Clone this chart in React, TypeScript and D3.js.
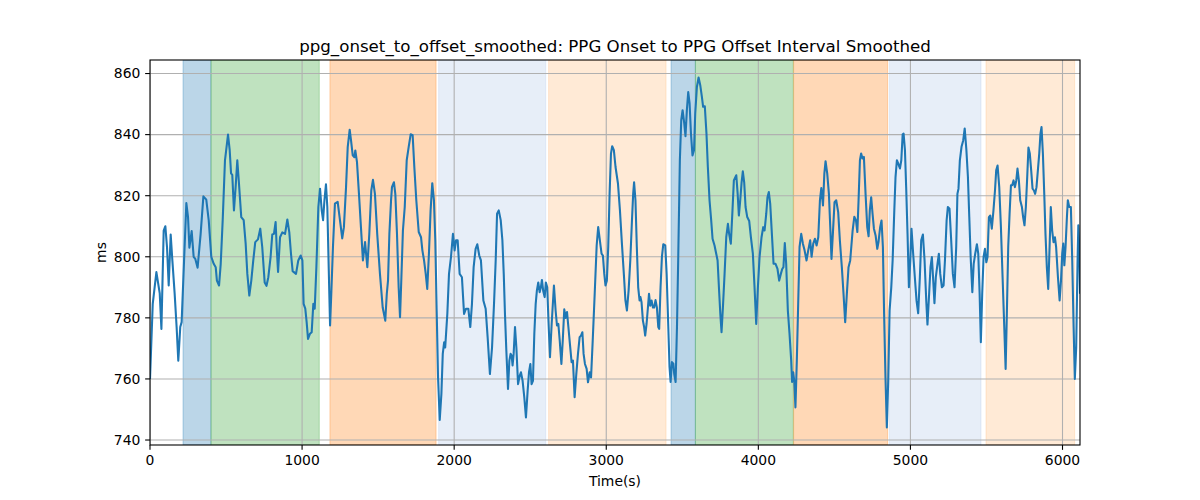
import * as d3 from 'd3'

// time (s) -> smoothed onset-to-offset interval (ms)
const trace: [number, number][] = [
    [0, 760], [18, 784.6], [42, 795], [64, 788], [75, 776.4], [90, 808.6], [101, 810], [112, 803],
    [123, 790.6], [136, 807.3], [147, 798.8], [162, 788], [175, 777], [186, 766], [199, 777], [208, 778.6],
    [224, 798.8], [239, 817.6], [250, 813], [259, 803], [274, 808.4], [287, 800], [298, 799.3], [313, 796.4],
    [333, 807.5], [351, 819.8], [370, 818.7], [386, 812], [403, 800], [419, 797.7], [432, 796.6], [440, 792.2],
    [454, 790.6], [465, 797.7], [478, 812], [493, 831.6], [513, 840], [524, 834.9], [533, 827.3], [541, 826.8],
    [552, 815.2], [563, 822.8], [574, 831.6], [585, 824], [600, 813], [616, 812], [629, 804.3], [640, 794.4],
    [653, 787.3], [666, 792.2], [679, 798.8], [692, 804.8], [710, 805.7], [725, 809.2], [738, 803.2], [754, 791.6],
    [766, 790.5], [778, 793.3], [793, 800], [804, 807.3], [815, 807.5], [826, 811.4], [833, 803.2], [842, 795],
    [855, 806.4], [870, 808], [888, 807.5], [903, 812.2], [916, 808], [927, 801], [938, 795.3], [960, 794.4],
    [975, 798.8], [991, 800.4], [1002, 798.8], [1010, 784.6], [1021, 783], [1030, 778.6], [1039, 773.1], [1052, 774.8],
    [1063, 775.3], [1074, 784.6], [1083, 783], [1094, 796.6], [1107, 816.3], [1118, 822.3], [1129, 815.2], [1138, 812],
    [1147, 818.5], [1157, 823.7], [1166, 816.3], [1175, 796.6], [1184, 777.5], [1192, 787.9], [1203, 803.2], [1216, 817.4],
    [1234, 818], [1249, 812], [1264, 806], [1275, 809.7], [1289, 822.8], [1300, 835.9], [1313, 841.6], [1322, 838],
    [1333, 833.2], [1344, 832.6], [1350, 834.8], [1361, 831], [1374, 820.6], [1387, 809.7], [1400, 798.8], [1414, 804.8],
    [1429, 796.6], [1442, 807.5], [1455, 821.7], [1466, 825.2], [1479, 820.6], [1494, 807.5], [1512, 794.4], [1530, 783.4],
    [1547, 779.1], [1557, 787.9], [1565, 792.2], [1574, 807.5], [1585, 818.5], [1591, 822.8], [1604, 824.4], [1613, 820.6],
    [1624, 807.5], [1635, 790], [1644, 780.2], [1653, 793.3], [1663, 808.6], [1675, 816.3], [1688, 831.6], [1701, 836],
    [1714, 840.1], [1727, 839.8], [1738, 829.4], [1751, 818.5], [1767, 808.1], [1782, 806.4], [1791, 802.1], [1802, 798.8],
    [1813, 794.4], [1823, 789.5], [1834, 801], [1845, 815.2], [1856, 824.1], [1867, 818.5], [1876, 805.4], [1885, 782.4],
    [1894, 760.5], [1905, 746.6], [1916, 755.1], [1925, 768.2], [1934, 772], [1941, 770.3], [1955, 781.3], [1966, 794.4],
    [1979, 799.9], [1992, 807.5], [2003, 802.1], [2012, 805.4], [2023, 805.4], [2036, 794.4], [2051, 793.3], [2065, 781.3],
    [2078, 783], [2093, 783], [2106, 777], [2117, 784.6], [2128, 796.6], [2141, 802.6], [2152, 804.1], [2165, 800.4],
    [2176, 798.8], [2192, 785.7], [2207, 783], [2220, 773.7], [2235, 761.6], [2249, 770.3], [2262, 784.6], [2273, 798.8],
    [2282, 814.1], [2293, 815.2], [2306, 812], [2317, 805.4], [2326, 794.4], [2334, 781.3], [2343, 769.3], [2354, 756.7],
    [2363, 766], [2371, 768.2], [2378, 767.6], [2384, 764.4], [2391, 768.2], [2400, 777], [2409, 770.3], [2420, 758.3],
    [2431, 761], [2439, 762.2], [2450, 759.4], [2461, 754], [2472, 747.4], [2483, 756.1], [2492, 762.2], [2501, 764.9],
    [2509, 758.3], [2518, 759.4], [2527, 774.8], [2536, 784.6], [2544, 789], [2553, 791.6], [2562, 788.4], [2570, 790],
    [2577, 792.4], [2585, 788.9], [2595, 786.8], [2603, 791.6], [2612, 790], [2620, 779.1], [2630, 767.1], [2641, 778],
    [2656, 790.6], [2667, 782.4], [2676, 777.5], [2685, 778], [2694, 772.6], [2705, 764.9], [2714, 772.6], [2724, 782.8],
    [2733, 780], [2742, 781.9], [2751, 777], [2761, 771.5], [2772, 765.5], [2781, 766], [2792, 754], [2803, 761.6],
    [2814, 768.2], [2825, 773.7], [2834, 774.2], [2843, 775.3], [2851, 768.2], [2860, 764.9], [2871, 763.3], [2880, 758.9],
    [2891, 762.2], [2900, 760.5], [2911, 772.6], [2924, 787.9], [2937, 803.7], [2947, 809.7], [2958, 805.4], [2969, 801],
    [2978, 800.4], [2987, 794.4], [2995, 790.6], [3004, 792.2], [3013, 803.2], [3022, 820.6], [3031, 833.8], [3039, 836.2],
    [3050, 834.9], [3061, 829.4], [3077, 824], [3090, 815.2], [3103, 804.3], [3117, 793.3], [3126, 785.7], [3136, 782.4],
    [3147, 789], [3158, 798.8], [3169, 811.9], [3177, 820.6], [3183, 824.4], [3192, 818.5], [3201, 803.2], [3210, 790],
    [3219, 785.7], [3225, 786.8], [3232, 785.1], [3241, 779.1], [3249, 777], [3256, 774.2], [3265, 778], [3274, 783.4],
    [3281, 787.9], [3289, 784], [3298, 785.7], [3307, 783.4], [3315, 783.4], [3324, 785.8], [3333, 783.4], [3342, 777],
    [3348, 776.4], [3357, 790], [3366, 800], [3375, 804.1], [3388, 803.7], [3397, 794.4], [3408, 777], [3416, 763.9],
    [3423, 759], [3432, 765.5], [3441, 765], [3447, 761.6], [3456, 759], [3465, 777], [3473, 798.8], [3484, 831.6],
    [3493, 844.7], [3502, 848], [3513, 843.6], [3521, 839.5], [3530, 848], [3539, 853.9], [3548, 850.2], [3557, 840.3],
    [3567, 833.2], [3577, 834.9], [3585, 846.9], [3596, 855.6], [3607, 858.7], [3618, 856.2], [3629, 852.3], [3637, 849.1],
    [3648, 849.3], [3659, 840.3], [3668, 829.4], [3679, 818.5], [3690, 811.9], [3699, 805.9], [3712, 803.7], [3721, 801.5],
    [3732, 798.8], [3743, 787.9], [3750, 781.3], [3758, 775.3], [3767, 783.4], [3778, 794.4], [3789, 806.4], [3800, 810.8],
    [3808, 807.5], [3819, 804.3], [3830, 815.2], [3839, 825], [3855, 826.7], [3864, 820.6], [3872, 813.5], [3881, 818.5],
    [3890, 824.4], [3898, 828], [3907, 824.4], [3916, 816.3], [3927, 813], [3940, 811.7], [3951, 806.4], [3964, 801],
    [3975, 790], [3986, 778], [3997, 790], [4008, 799.9], [4021, 806.4], [4032, 809.7], [4041, 808.6], [4052, 814.1],
    [4060, 819.5], [4069, 821.2], [4078, 817.4], [4089, 807.5], [4100, 797.7], [4113, 797.7], [4126, 796], [4137, 792.2],
    [4148, 794.4], [4157, 796], [4165, 796.6], [4174, 804.5], [4183, 797.7], [4194, 782.4], [4205, 774.8], [4216, 766],
    [4222, 759], [4229, 762.2], [4236, 759.4], [4244, 750.7], [4253, 766], [4262, 784.6], [4271, 803.2], [4282, 807.5],
    [4293, 804.3], [4304, 802.1], [4317, 798.8], [4328, 802.1], [4341, 805.4], [4350, 800], [4361, 804.3], [4372, 805.9],
    [4383, 803.7], [4394, 806.4], [4405, 818.5], [4414, 822.5], [4425, 816.8], [4434, 827.2], [4442, 831.3], [4453, 827.2],
    [4464, 820.6], [4473, 809.7], [4481, 799.3], [4490, 807.5], [4501, 817.9], [4512, 818.5], [4525, 814.6], [4536, 805.4],
    [4549, 796.6], [4560, 787.9], [4571, 778.6], [4582, 787.9], [4593, 796.6], [4604, 798.8], [4620, 808.6], [4631, 813.1],
    [4642, 811.9], [4651, 808.1], [4659, 818.5], [4668, 831.6], [4676, 833.8], [4685, 832.2], [4694, 832.7], [4705, 820.6],
    [4716, 809.7], [4725, 806.7], [4733, 815.2], [4742, 819.5], [4751, 814.1], [4760, 809.2], [4771, 807], [4782, 802.6],
    [4790, 804.8], [4801, 809.7], [4810, 811.9], [4819, 803.2], [4827, 781.3], [4836, 760.5], [4845, 744.1], [4854, 759.4],
    [4863, 782.4], [4874, 790], [4883, 798.8], [4894, 815.2], [4902, 826.1], [4911, 831.6], [4920, 830.5], [4931, 828.9],
    [4940, 831.6], [4949, 840.1], [4955, 840.3], [4964, 834.9], [4972, 822.8], [4981, 807.5], [4990, 790], [4999, 798.8],
    [5007, 809.2], [5018, 801], [5029, 793.3], [5040, 785.7], [5051, 781.5], [5062, 793.3], [5071, 805.4], [5082, 807.3],
    [5093, 798.8], [5104, 785.7], [5112, 777.8], [5123, 787.9], [5132, 796.6], [5141, 799.9], [5150, 792.2], [5158, 784.8],
    [5167, 793.3], [5178, 797.7], [5187, 801], [5196, 794.4], [5207, 790], [5218, 790.6], [5227, 798.8], [5238, 811.9],
    [5246, 816.3], [5257, 815.7], [5268, 805.4], [5279, 794.4], [5290, 790], [5301, 803.2], [5309, 820.6], [5316, 822.3],
    [5325, 831.6], [5336, 836], [5347, 838.1], [5357, 842], [5368, 834.9], [5378, 826.2], [5387, 813], [5396, 799.9],
    [5407, 788.4], [5416, 797.7], [5426, 801], [5437, 804.1], [5446, 801], [5455, 787.9], [5463, 772], [5472, 787.9],
    [5481, 800], [5490, 802.6], [5499, 798.2], [5507, 799.9], [5516, 813], [5525, 813.5], [5535, 809.2], [5546, 815.2],
    [5556, 821.7], [5564, 828.3], [5573, 829.9], [5584, 822.8], [5595, 809.7], [5606, 793.3], [5617, 777], [5626, 763.3],
    [5634, 781.3], [5643, 803.2], [5652, 814.1], [5661, 823.4], [5669, 823.4], [5678, 825], [5687, 822.8], [5696, 825],
    [5704, 828.9], [5713, 825], [5722, 818.5], [5733, 816.3], [5741, 813], [5750, 810.3], [5759, 816.3], [5768, 826.2],
    [5776, 835.8], [5785, 833.8], [5794, 828.3], [5803, 822.3], [5812, 821.7], [5820, 820.6], [5829, 822.8], [5838, 828.3],
    [5847, 833.8], [5855, 840.3], [5862, 842.5], [5871, 833.8], [5880, 820.6], [5888, 807.5], [5897, 796.6], [5906, 789.5],
    [5915, 803.2], [5923, 816.3], [5932, 808.6], [5941, 804.8], [5950, 806.4], [5958, 803.2], [5970, 793.3], [5981, 785.7],
    [5990, 792.2], [5998, 801], [6005, 804.3], [6012, 797.2], [6020, 803.2], [6029, 813], [6035, 818.5], [6044, 816.3],
    [6055, 816.3], [6064, 798.8], [6073, 777], [6081, 760], [6090, 770.3], [6099, 798.8], [6104, 810.3], [6110, 803.2],
    [6115, 787.9],
]

// shaded phases (start, end, colour)
const phaseStart = [217, 401, 1183, 1898, 2621, 3426, 3586, 4232, 4861, 5497]
const phaseEnd = [401, 1113, 1881, 2602, 3393, 3586, 4230, 4850, 5464, 6080]
const phaseColor = [
    '#1f77b4', '#2ca02c', '#ff7f0e', '#aec7e8', '#ffbb78',
    '#1f77b4', '#2ca02c', '#ff7f0e', '#aec7e8', '#ffbb78',
]

const xTicks = [0, 1000, 2000, 3000, 4000, 5000, 6000]
const yTicks = [740, 760, 780, 800, 820, 840, 860]

const title = 'ppg_onset_to_offset_smoothed: PPG Onset to PPG Offset Interval Smoothed'

export default function App() {
    const width = 1200
    const height = 500
    const margin = { top: 60, right: 120, bottom: 55, left: 150 }
    const innerW = width - margin.left - margin.right
    const innerH = height - margin.top - margin.bottom

    const [xMin, xMax] = d3.extent(trace, (d) => d[0]) as [number, number]
    const [yLo, yHi] = d3.extent(trace, (d) => d[1]) as [number, number]
    const pad = (yHi - yLo) * 0.05

    const x = d3.scaleLinear().domain([xMin, xMax]).range([0, innerW])
    const y = d3.scaleLinear().domain([yLo - pad, yHi + pad]).range([innerH, 0])

    const line = d3
        .line<[number, number]>()
        .x((d) => x(d[0]))
        .y((d) => y(d[1]))

    const font = "'DejaVu Sans', sans-serif"
    const tickLen = 4.86

    return (
        <svg
            width={width}
            height={height}
            style={{ position: 'absolute', left: 0, top: 0, background: 'white' }}
            fontFamily={font}
        >
            <defs>
                <clipPath id="plot-area">
                    <rect width={innerW} height={innerH} />
                </clipPath>
            </defs>
            <text
                x={margin.left + innerW / 2}
                y={margin.top - 8.5}
                textAnchor="middle"
                fontSize={16.67}
                fill="#000"
            >
                {title}
            </text>
            <g transform={`translate(${margin.left},${margin.top})`}>
                <g clipPath="url(#plot-area)">
                    {phaseStart.map((s, i) => (
                        <rect
                            key={'p' + i}
                            x={x(s)}
                            y={0}
                            width={x(phaseEnd[i]) - x(s)}
                            height={innerH}
                            fill={phaseColor[i]}
                            fillOpacity={0.3}
                            stroke={phaseColor[i]}
                            strokeOpacity={0.3}
                            strokeWidth={1}
                        />
                    ))}
                    {xTicks.map((t) => (
                        <line
                            key={'gx' + t}
                            x1={x(t)}
                            x2={x(t)}
                            y1={0}
                            y2={innerH}
                            stroke="#b0b0b0"
                            strokeWidth={1.1}
                        />
                    ))}
                    {yTicks.map((t) => (
                        <line
                            key={'gy' + t}
                            x1={0}
                            x2={innerW}
                            y1={y(t)}
                            y2={y(t)}
                            stroke="#b0b0b0"
                            strokeWidth={1.1}
                        />
                    ))}
                    <path
                        d={line(trace) ?? ''}
                        fill="none"
                        stroke="#1f77b4"
                        strokeWidth={2.08}
                        strokeLinejoin="round"
                    />
                </g>
                <rect
                    width={innerW}
                    height={innerH}
                    fill="none"
                    stroke="#000"
                    strokeWidth={1.1}
                />
                {xTicks.map((t) => (
                    <g key={'tx' + t} transform={`translate(${x(t)},${innerH})`}>
                        <line y2={tickLen} stroke="#000" strokeWidth={1.1} />
                        <text y={20} textAnchor="middle" fontSize={13.9} fill="#000">
                            {t}
                        </text>
                    </g>
                ))}
                {yTicks.map((t) => (
                    <g key={'ty' + t} transform={`translate(0,${y(t)})`}>
                        <line x2={-tickLen} stroke="#000" strokeWidth={1.1} />
                        <text
                            x={-9.7}
                            dy="0.35em"
                            textAnchor="end"
                            fontSize={13.9}
                            fill="#000"
                        >
                            {t}
                        </text>
                    </g>
                ))}
                <text
                    x={innerW / 2}
                    y={innerH + 41}
                    textAnchor="middle"
                    fontSize={13.9}
                    fill="#000"
                >
                    Time(s)
                </text>
                <text
                    transform={`translate(${-44},${innerH / 2}) rotate(-90)`}
                    textAnchor="middle"
                    fontSize={13.9}
                    fill="#000"
                >
                    ms
                </text>
            </g>
        </svg>
    )
}
